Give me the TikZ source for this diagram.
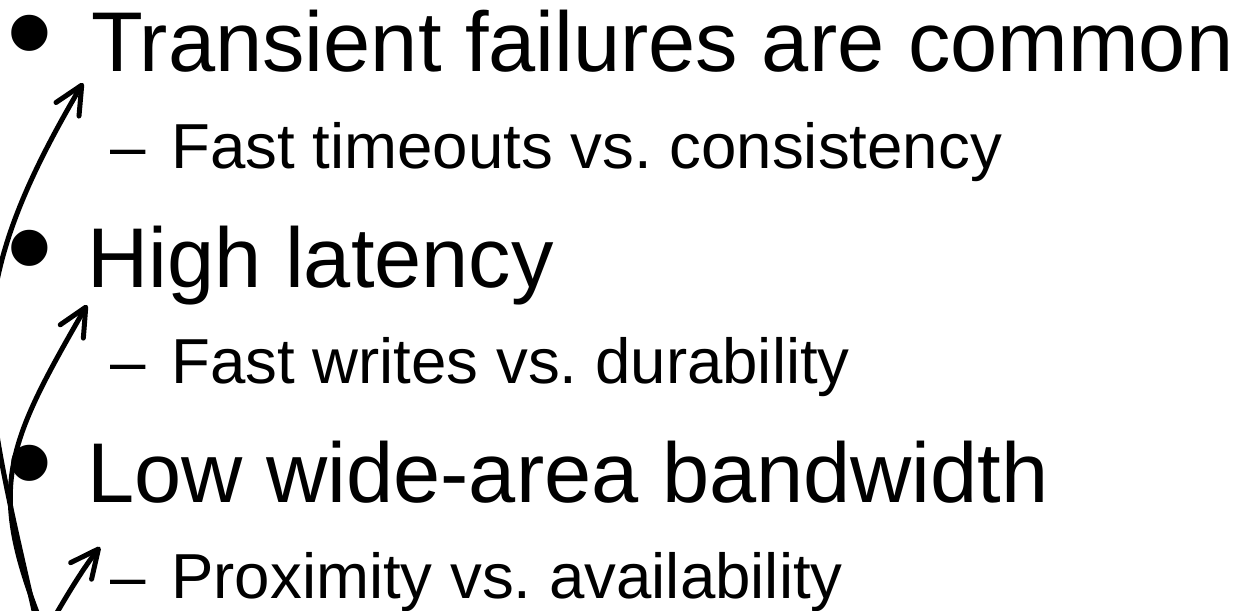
\documentclass[tikz,border=0pt]{standalone}
\usepackage{fontspec}
\setmainfont{Liberation Sans}
\usetikzlibrary{arrows.meta}
\frenchspacing
\begin{document}
\begin{tikzpicture}[x=0.75pt,y=-0.75pt,
  main/.style={anchor=base west, inner sep=0pt, font=\fontsize{63.6}{63.6}\selectfont},
  sub/.style={anchor=base west, inner sep=0pt, font=\fontsize{47.7}{47.7}\selectfont},
  bul/.style={anchor=base, inner sep=0pt, font=\fontsize{100}{100}\selectfont},
  arr/.style={line width=3.75pt, line cap=round, -{Straight Barb[length=21pt,width=20pt,round]}}]
\useasboundingbox (0,0) rectangle (1241,610);
% level 1 items
\node[bul] (b1) at (30,77.5) {\smash{•}};
\node[main] (t1) at (91,72) {Transient failures are common};
\node[sub] (d1) at (110,168) {–};
\node[sub] (s1) at (171,168) {Fast timeouts vs. consistency};
\node[bul] (b2) at (30,292.5) {\smash{•}};
\node[main] (t2) at (87,287) {High latency};
\node[sub] (d2) at (110,383) {–};
\node[sub] (s2) at (171,383) {Fast writes vs. durability};
\node[bul] (b3) at (30,507.5) {\smash{•}};
\node[main] (t3) at (87,502) {Low wide-area bandwidth};
\node[sub] (d3) at (110,598) {–};
\node[sub] (s3) at (171,598) {Proximity vs. availability};
% arrows
\coordinate (a1s) at (35,615);
\coordinate (a1e) at (83,83);
\coordinate (a2s) at (38,615);
\coordinate (a2e) at (87,305);
\coordinate (a3s) at (55,616);
\coordinate (a3e) at (100,547);
\draw[arr] (a1s) .. controls (-20,372) and (-45,300) .. (a1e);
\draw[arr] (a2s) .. controls (-12,485) and (7,444) .. (a2e);
\draw[arr] (a3s) .. controls (70,590) and (85,566) .. (a3e);
\end{tikzpicture}
\end{document}
